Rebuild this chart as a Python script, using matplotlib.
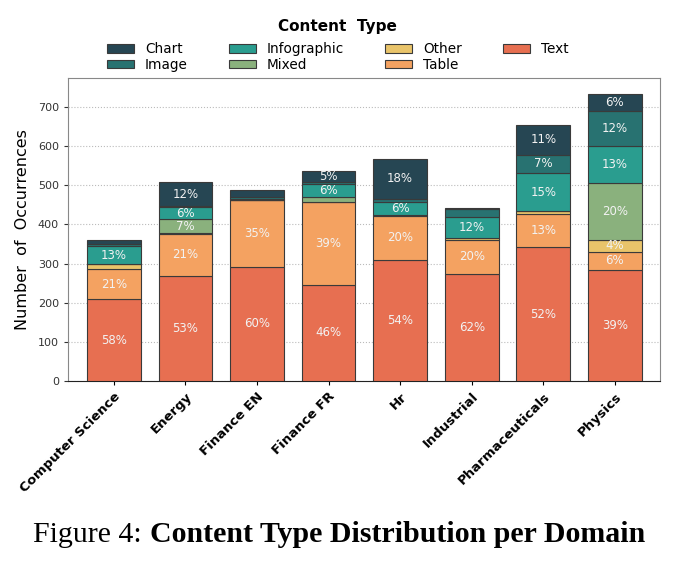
"""Content type distribution per domain (stacked bars)."""

import matplotlib.pyplot as plt
import numpy as np

domains = ['Computer Science', 'Energy', 'Finance EN', 'Finance FR', 'Hr',
           'Industrial', 'Pharmaceuticals', 'Physics']

# counts per content type, one value per domain (stacked bottom -> top)
text = [209, 269, 292, 246, 309, 273, 341, 284]
table = [77, 106, 170, 211, 113, 88, 86, 45]
other = [12, 2, 0, 0, 1, 3, 6, 32]
mixed = [0, 36, 0, 12, 0, 2, 0, 145]
infographic = [47, 31, 2, 33, 35, 54, 98, 94]
image = [4, 3, 5, 5, 6, 19, 47, 89]
chart = [11, 60, 19, 28, 104, 4, 75, 45]

layers = [('Text', text, '#e76f51'),
          ('Table', table, '#f4a261'),
          ('Other', other, '#e9c46a'),
          ('Mixed', mixed, '#8ab17d'),
          ('Infographic', infographic, '#2a9d8f'),
          ('Image', image, '#287271'),
          ('Chart', chart, '#264653')]

fig = plt.figure(figsize=(6.82, 5.67), dpi=100)
ax = fig.add_axes([0.0997, 0.328, 0.868, 0.534])

x = np.arange(len(domains))
totals = np.sum([v for _, v, _ in layers], axis=0)
bottom = np.zeros(len(domains))
handles = {}
for name, vals, color in layers:
    vals = np.array(vals, dtype=float)
    bars = ax.bar(x, vals, 0.75, bottom=bottom, color=color,
                  edgecolor='#3a3a3a', linewidth=0.8, label=name, zorder=3)
    handles[name] = bars
    # percentage labels for segments tall enough to hold them
    for xi, v, b, t in zip(x, vals, bottom, totals):
        if v >= 25:
            ax.text(xi, b + v / 2, f'{100 * v / t:.0f}%', ha='center',
                    va='center', color='#f2f2f2', fontsize=8.5, zorder=4)
    bottom += vals

ax.set_xlim(-0.64, 7.63)
ax.set_ylim(0, 773)
ax.set_yticks(range(0, 701, 100))
ax.tick_params(axis='y', labelsize=8, colors='#333333', length=3)
ax.tick_params(axis='x', length=3)
ax.set_xticks(x)
ax.set_xticklabels(domains, rotation=45, ha='right', rotation_mode='anchor',
                   fontsize=9.5, fontweight='bold')
ax.set_ylabel('Number  of  Occurrences', fontsize=11.5, labelpad=6)
ax.grid(axis='y', linestyle=':', color='#bbbbbb', linewidth=0.8, zorder=0)
for side in ['left', 'right', 'top']:
    ax.spines[side].set_color('#888888')
ax.spines['bottom'].set_color('#222222')

# Legend ordered alphabetically, filled column by column
order = ['Chart', 'Image', 'Infographic', 'Mixed', 'Other', 'Table', 'Text']
fig.text(0.495, 0.954, 'Content  Type', ha='center', va='center',
         fontsize=11, fontweight='bold')
leg = fig.legend([handles[n] for n in order], order, loc='upper center',
                 bbox_to_anchor=(0.495, 0.942), ncol=4, frameon=False,
                 fontsize=9.8, handlelength=2.0, handleheight=0.55,
                 labelspacing=0.1, columnspacing=3.0, borderpad=0.2)

fig.text(0.048, 0.057, 'Figure 4:', ha='left', va='center', fontsize=21.5,
         family='Liberation Serif')
fig.text(0.22, 0.057, 'Content Type Distribution per Domain', ha='left',
         va='center', fontsize=21.5, family='Liberation Serif',
         fontweight='bold')

plt.savefig('out.png')
